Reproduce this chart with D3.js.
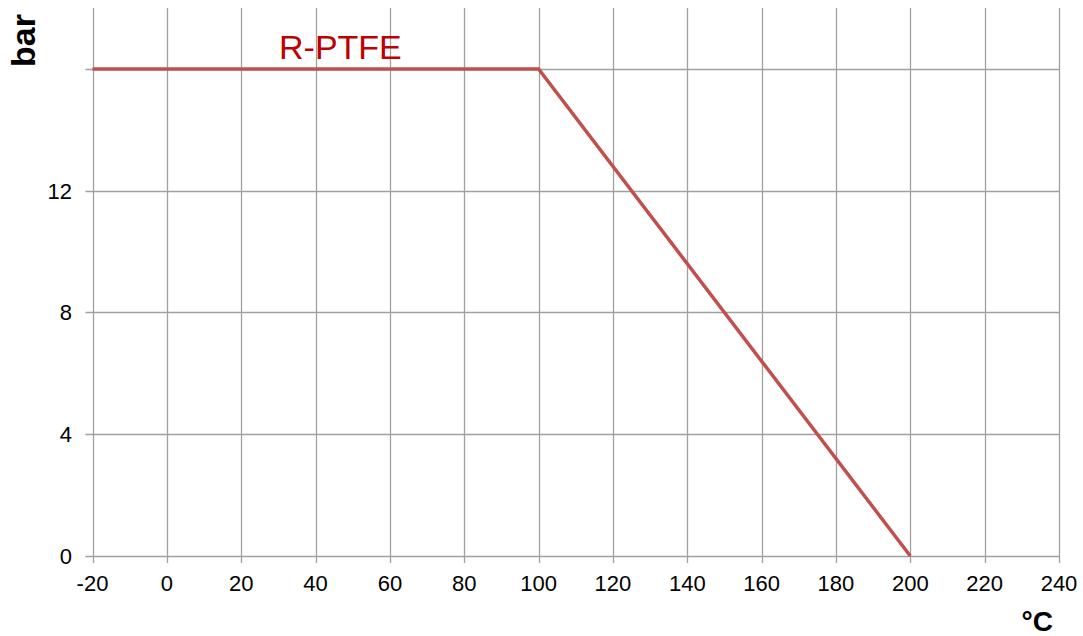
<!DOCTYPE html>
<html>
<head>
<meta charset="utf-8">
<script src="https://cdn.jsdelivr.net/npm/d3@7"></script>
<style>
  body { margin: 0; background: #fff; }
  svg { display: block; font-family: "Liberation Sans", Arial, sans-serif; }
</style>
</head>
<body>
<div class="display"></div>
<script>
const xTicks = [-20, 0, 20, 40, 60, 80, 100, 120, 140, 160, 180, 200, 220, 240];
const yTicks = [0, 4, 8, 12, 16];
const yLabels = ['0', '4', '8', '12', ''];
const temps = [-20, 100, 200];
const pressures = [16, 16, 0];
const seriesName = 'R-PTFE';

const width = 1083;
const height = 636;
const plotLeft = 92.5, plotRight = 1059, plotTop = 8, plotBottom = 556;

const x = d3.scaleLinear().domain([-20, 240]).range([plotLeft, plotRight]);
const y = d3.scaleLinear().domain([0, 18]).range([plotBottom, plotTop]);

const svg = d3.select('.display')
  .append('svg')
  .attr('width', width)
  .attr('height', height);

const grid = '#a0a0a0';

// vertical grid + x ticks
svg.append('g')
  .selectAll('line')
  .data(xTicks)
  .enter()
  .append('line')
  .attr('x1', d => Math.round(x(d)) + 0.5)
  .attr('x2', d => Math.round(x(d)) + 0.5)
  .attr('y1', plotTop)
  .attr('y2', plotBottom + 7)
  .attr('stroke', grid)
  .attr('stroke-width', 1.3);

// horizontal grid + y ticks
svg.append('g')
  .selectAll('line')
  .data(yTicks)
  .enter()
  .append('line')
  .attr('x1', plotLeft - 7)
  .attr('x2', plotRight)
  .attr('y1', d => Math.round(y(d)) + 0.5)
  .attr('y2', d => Math.round(y(d)) + 0.5)
  .attr('stroke', grid)
  .attr('stroke-width', 1.3);

svg.append('g')
  .selectAll('text')
  .data(xTicks)
  .enter()
  .append('text')
  .attr('x', d => x(d))
  .attr('y', 591)
  .attr('text-anchor', 'middle')
  .attr('font-size', 22)
  .attr('fill', '#000')
  .text(d => d);

svg.append('g')
  .selectAll('text')
  .data(yTicks)
  .enter()
  .append('text')
  .attr('x', 72)
  .attr('y', d => y(d) + 8)
  .attr('text-anchor', 'end')
  .attr('font-size', 22)
  .attr('fill', '#000')
  .text((d, i) => yLabels[i]);

const line = d3.line()
  .x(d => x(d[0]))
  .y(d => y(d[1]));

svg.append('path')
  .datum(temps.map((t, i) => [t, pressures[i]]))
  .attr('d', line)
  .attr('fill', 'none')
  .attr('stroke', '#c0504d')
  .attr('stroke-width', 3.5);

svg.append('text')
  .attr('x', 279)
  .attr('y', 59)
  .attr('font-size', 34)
  .attr('fill', '#c00000')
  .text(seriesName);

svg.append('text')
  .attr('transform', 'translate(35, 40.5) rotate(-90)')
  .attr('text-anchor', 'middle')
  .attr('font-size', 34)
  .attr('font-weight', 'bold')
  .attr('fill', '#000')
  .text('bar');

svg.append('text')
  .attr('x', 1053)
  .attr('y', 631)
  .attr('text-anchor', 'end')
  .attr('font-size', 28)
  .attr('font-weight', 'bold')
  .attr('fill', '#000')
  .text('°C');
</script>
</body>
</html>
